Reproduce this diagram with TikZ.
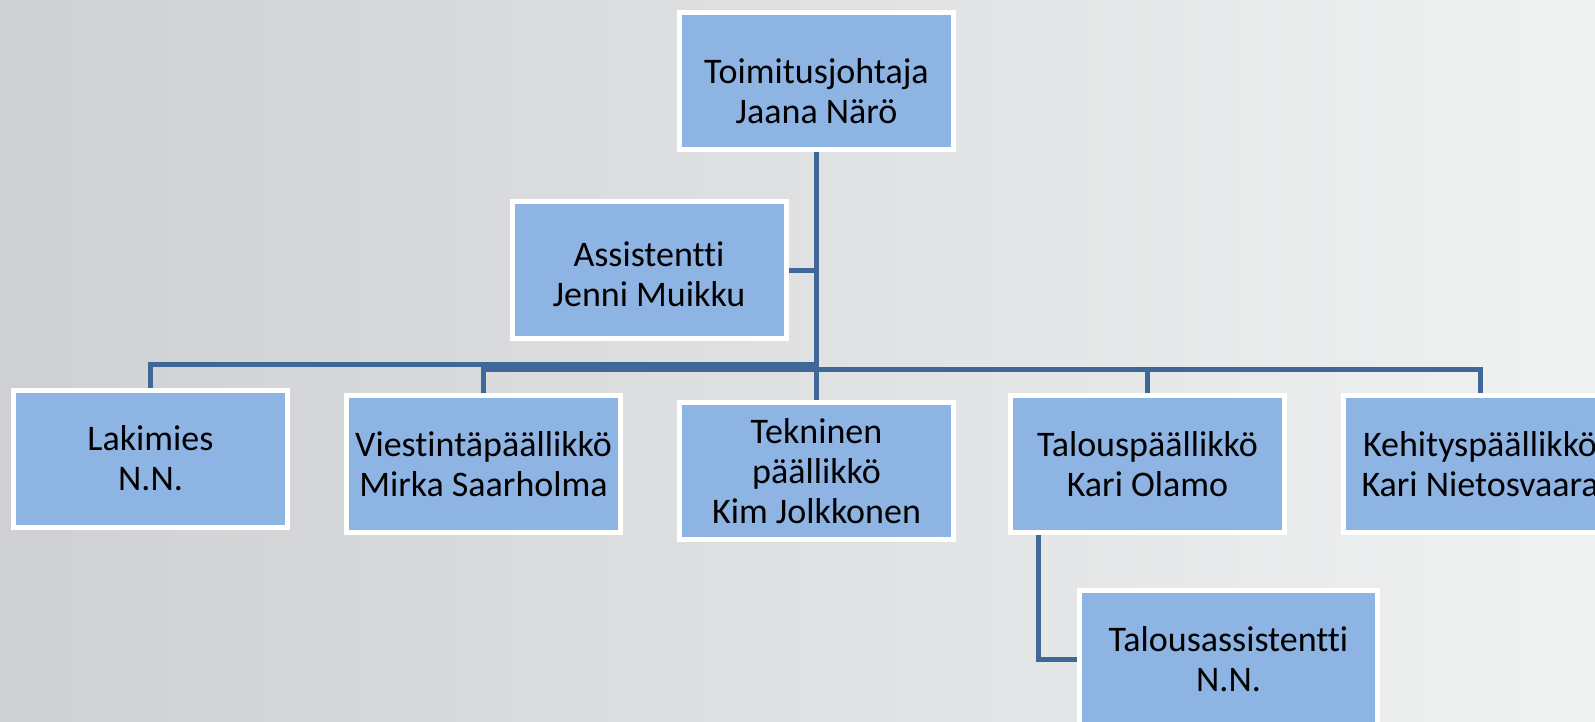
\documentclass[tikz,border=0pt]{standalone}
\usepackage{fontspec}
\setmainfont{Carlito}[Ligatures = NoCommon]
\usetikzlibrary{backgrounds}
\definecolor{boxblue}{HTML}{8EB4E3}
\definecolor{linkblue}{HTML}{3F6798}
\definecolor{bgleft}{HTML}{CFD0D3}
\definecolor{bgmid}{HTML}{E6E7E8}
\definecolor{bgright}{HTML}{F0F1F1}

\begin{document}
\begin{tikzpicture}[x = 1pt, y = -1pt,
    box/.style = {draw = white, line width = 5pt, fill = boxblue,
      minimum width = 274pt, minimum height = 137pt, align = center,
      inner sep = 0pt, font = \fontsize{36}{40}\selectfont},
    link/.style = {draw = linkblue, line width = 5pt}]
    \useasboundingbox (0,0) rectangle (1595,722);
    \clip (0,0) rectangle (1595,722);
    \node [box] (ceo) at (816.5,81)
      {\rule{0pt}{45pt}Toimitusjohtaja\\Jaana Närö};
    \node [box] (asst) at (649,270)
      {\rule{0pt}{33pt}Assistentti\\Jenni Muikku};
    \node [box] (laki) at (150.5,458.5) {Lakimies\\N.N.};
    \node [box] (viest) at (483.5,464) {Viestintäpäällikkö\\Mirka Saarholma};
    \node [box] (tekn) at (816.5,471) {Tekninen\\päällikkö\\Kim Jolkkonen};
    \node [box] (talous) at (1147.5,464) {Talouspäällikkö\\Kari Olamo};
    \node [box] (kehit) at (1480,464) {Kehityspäällikkö\\Kari Nietosvaara};
    \node [box, minimum width = 298pt] (talass) at (1228.5,659)
      {Talousassistentti\\N.N.};
    \begin{pgfonlayer}{background}
      \shade [left color = bgleft, middle color = bgmid, right color = bgright]
      (0,0) rectangle (1595,722);
      \draw [link] (asst.east) -- (asst.east -| ceo.south);
      \draw [link] (ceo.south) -- ++(0,212) -| (laki.north);
      \foreach \n in {viest, talous, kehit} {
        \draw [link] (ceo.south) -- ++(0,217) -| (\n.north);
      }
      \draw [link] (ceo.south) -- (tekn.north);
      \draw [link] ([xshift = -109.5pt]talous.south) |- (talass.west);
    \end{pgfonlayer}
\end{tikzpicture}
\end{document}
